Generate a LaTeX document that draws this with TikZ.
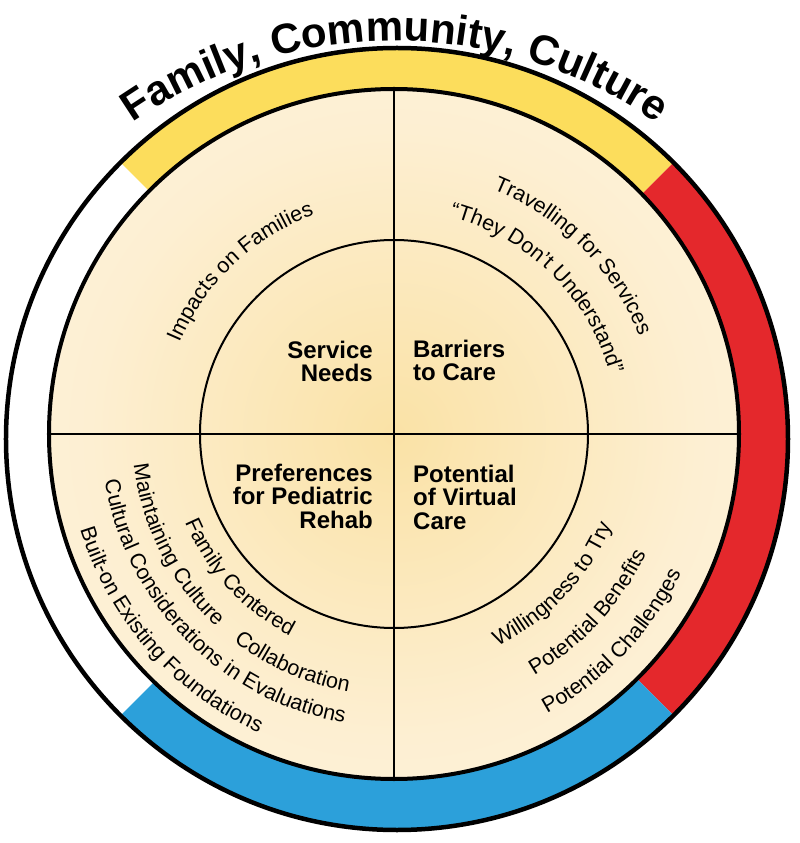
\documentclass[tikz,border=0pt]{standalone}
\usepackage{fontspec}
\setmainfont{Liberation Sans}
\usetikzlibrary{decorations.text}
\definecolor{ringyellow}{RGB}{252,221,92}
\definecolor{ringred}{RGB}{228,40,44}
\definecolor{ringblue}{RGB}{44,160,218}
\definecolor{glowin}{RGB}{250,226,166}
\definecolor{glowmid}{RGB}{253,239,210}
\definecolor{glowout}{RGB}{254,248,236}
\pgfdeclareradialshading{glow}{\pgfpoint{0bp}{0bp}}{color(0bp)=(glowin); color(22bp)=(glowmid); color(50bp)=(glowout); color(72bp)=(glowout)}
\newcommand{\arcfont}{\fontsize{21.5}{24}\selectfont}
\newcommand{\titlefont}{\fontsize{42}{48}\selectfont\bfseries}
\tikzstyle{theme} = [font=\fontsize{24}{23.5}\selectfont\bfseries, inner sep=0pt]
\tikzstyle{ringtext} = [decorate, decoration={text along path, text align=center}]

\begin{document}
\begin{tikzpicture}[x=1pt, y=1pt]
    \useasboundingbox (-394,-409) rectangle (406,434);
    \fill[white] (-394,-409) rectangle (406,434);
    \coordinate (hub) at (0,0);
    \coordinate (rim) at (3,-5);

    % coloured ring
    \fill[ringyellow] (rim) -- ++(45:391) arc[start angle=45, end angle=135, radius=391] -- cycle;
    \fill[ringred] (rim) -- ++(-45:391) arc[start angle=-45, end angle=45, radius=391] -- cycle;
    \fill[ringblue] (rim) -- ++(-135:391) arc[start angle=-135, end angle=-45, radius=391] -- cycle;
    \draw[line width=4.5pt] (rim) circle[radius=391];

    % wheel
    \shade[shading=glow] (hub) circle[radius=345];
    \draw[line width=4pt] (hub) circle[radius=345];
    \draw[line width=2pt] (hub) circle[radius=194];
    \draw[line width=2.5pt] (90:345) -- (270:345);
    \draw[line width=2.5pt] (180:345) -- (0:345);

    \node[theme, align=right, anchor=base east] (needs) at (-21,52) {Service\\Needs};
    \node[theme, align=left, anchor=base west] (barriers) at (19,53) {Barriers\\to Care};
    \node[theme, align=right, anchor=base east] (prefs) at (-21,-94) {Preferences\\for Pediatric\\Rehab};
    \node[theme, align=left, anchor=base west] (virtual) at (19,-95) {Potential\\of Virtual\\Care};

    % texts on the upper arcs
    \path[ringtext, decoration={text={|\arcfont|Impacts on Families}}] (193.5:233) arc[start angle=193.5, end angle=73.5, radius=233];
    \path[ringtext, decoration={text={|\arcfont|Travelling for Services}}] (104.9:264) arc[start angle=104.9, end angle=-15.1, radius=264];
    \path[ringtext, decoration={text={|\arcfont|“They Don’t Understand”}}] (105.5:224) arc[start angle=105.5, end angle=-14.5, radius=224];

    % texts on the lower arcs
    \path[ringtext, decoration={text={|\arcfont|Family Centered}}] (162.8:227) arc[start angle=162.8, end angle=282.8, radius=227];
    \path[ringtext, decoration={text={|\arcfont|Maintaining Culture}}] (147:262) arc[start angle=147, end angle=267, radius=262];
    \path[ringtext, decoration={text={|\arcfont|Collaboration}}] (186.1:262) arc[start angle=186.1, end angle=306.1, radius=262];
    \path[ringtext, decoration={text={|\arcfont|Cultural Considerations in Evaluations}}] (164.7:293) arc[start angle=164.7, end angle=284.7, radius=293];
    \path[ringtext, decoration={text={|\arcfont|Built-on Existing Foundations}}] (161.3:328) arc[start angle=161.3, end angle=281.3, radius=328];
    \path[ringtext, decoration={text={|\arcfont|Willingness to Try}}] (256.6:236) arc[start angle=256.6, end angle=376.6, radius=236];
    \path[ringtext, decoration={text={|\arcfont|Potential Benefits}}] (257.4:279) arc[start angle=257.4, end angle=377.4, radius=279];
    \path[ringtext, decoration={text={|\arcfont|Potential Challenges}}] (256.4:319) arc[start angle=256.4, end angle=376.4, radius=319];

    % title
    \path[ringtext, decoration={text={|\titlefont|Family, Community, Culture}}] (1,-67) ++(135:460) arc[start angle=135, end angle=45, radius=460];
\end{tikzpicture}
\end{document}
